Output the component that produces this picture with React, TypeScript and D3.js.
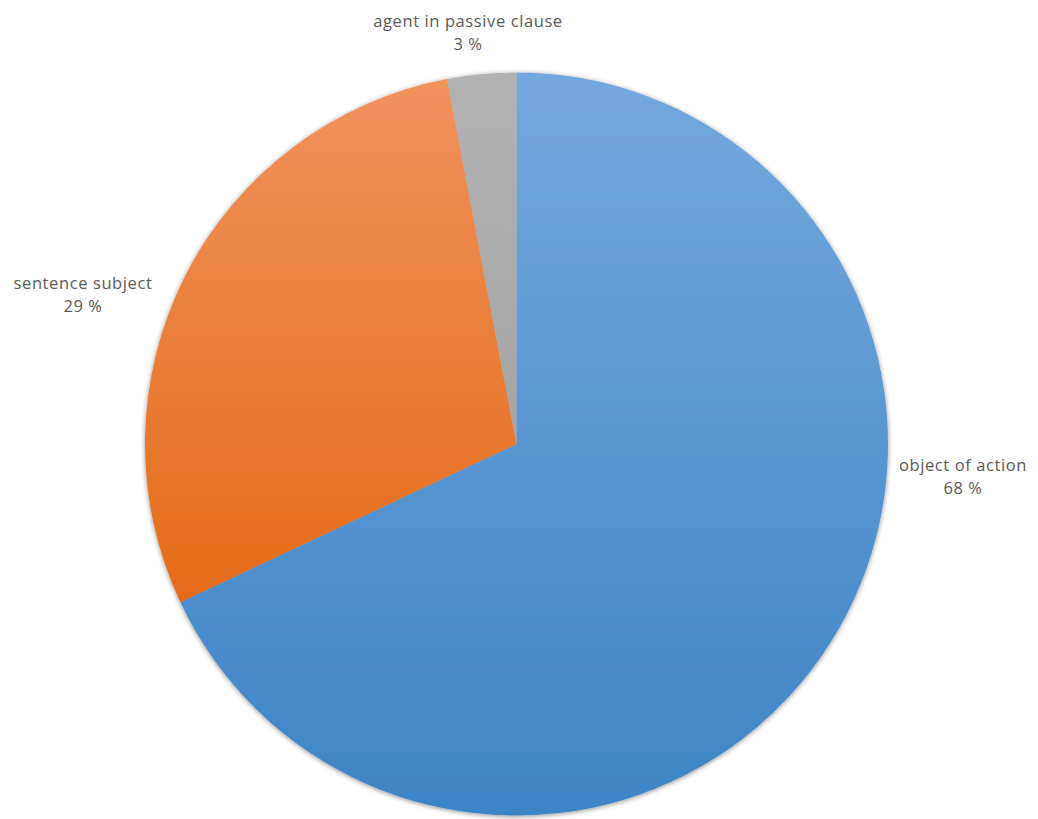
import React from "react";
import * as d3 from "d3";

const categories = ["object of action", "sentence subject", "agent in passive clause"];
const values = [68, 29, 3];
const percentLabels = ["68 %", "29 %", "3 %"];

const W = 1038;
const H = 819;
const cx = 516.5;
const cy = 444;
const R = 371.5;

const gradStops: [string, string][] = [
  ["#74a8de", "#3d84c5"],
  ["#f1925d", "#e46b18"],
  ["#b2b2b2", "#a5a5a5"],
];

const labelPos: [number, number][] = [
  [963, 471],
  [83, 289],
  [468, 27],
];

export default function App() {
  const pie = d3.pie<number>().sort(null).value((d) => d)(values);
  const arc = d3.arc<d3.PieArcDatum<number>>().innerRadius(0).outerRadius(R);
  return (
    <svg width={W} height={H} style={{ display: "block", position: "absolute", left: 0, top: 0 }}>
      <defs>
        {gradStops.map((g, i) => (
          <linearGradient key={i} id={`g${i}`} x1="0" y1="0" x2="0" y2="1">
            <stop offset="0" stopColor={g[0]} />
            <stop offset="1" stopColor={g[1]} />
          </linearGradient>
        ))}
        <filter id="sh" x="-10%" y="-10%" width="120%" height="120%">
          <feGaussianBlur in="SourceAlpha" stdDeviation="2.5" />
          <feOffset dx="0" dy="1" result="b" />
          <feComponentTransfer>
            <feFuncA type="linear" slope="0.45" />
          </feComponentTransfer>
          <feMerge>
            <feMergeNode />
            <feMergeNode in="SourceGraphic" />
          </feMerge>
        </filter>
      </defs>
      <rect width={W} height={H} fill="#ffffff" />
      <g transform={`translate(${cx},${cy})`} filter="url(#sh)">
        {pie.map((d, i) => (
          <path key={i} d={arc(d) || ""} fill={`url(#g${i})`} />
        ))}
      </g>
      {categories.map((c, i) => (
        <text
          key={c}
          x={labelPos[i][0]}
          y={labelPos[i][1]}
          textAnchor="middle"
          fontFamily="'Open Sans', sans-serif"
          fontSize={16.5}
          letterSpacing={0.6}
          fill="#595959"
        >
          <tspan x={labelPos[i][0]}>{c}</tspan>
          <tspan x={labelPos[i][0]} dy={23}>{percentLabels[i]}</tspan>
        </text>
      ))}
    </svg>
  );
}
